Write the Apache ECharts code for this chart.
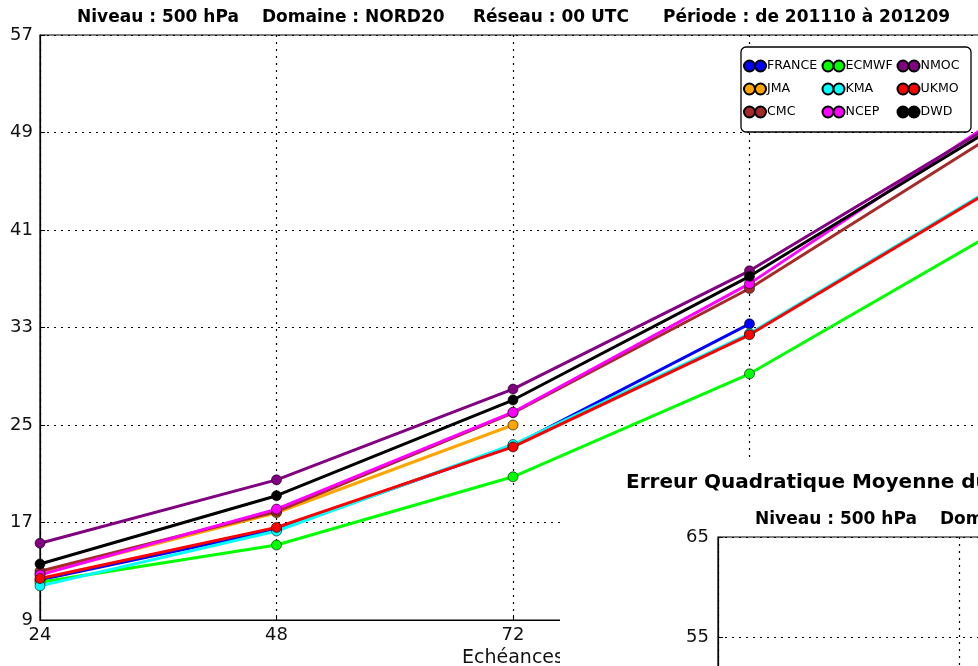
<!DOCTYPE html>
<html><head><meta charset="utf-8">
<script src="https://cdn.jsdelivr.net/npm/echarts@6/dist/echarts.min.js"></script>
<style>html,body{margin:0;padding:0;background:#fff}#c{width:978px;height:666px}</style>
</head><body><div id="c"></div>
<script>
// ---- data ----
const hours = [24, 48, 72, 96, 120];
const FRANCE = [12.3, 16.4, 23.3, 33.3, null];
const JMA    = [12.8, 17.8, 25.0, null, null];
const CMC    = [13.0, 17.9, 26.0, 36.2, 48.4];
const ECMWF  = [12.1, 15.15, 20.75, 29.2, 40.4];
const KMA    = [11.8, 16.3, 23.4, 32.5, 44.1];
const NCEP   = [12.7, 18.1, 26.05, 36.6, 49.5];
const NMOC   = [15.3, 20.5, 27.95, 37.65, 49.3];
const UKMO   = [12.4, 16.6, 23.2, 32.4, 44.0];
const DWD    = [13.6, 19.2, 27.05, 37.2, 49.0];
const seriesNames = ['FRANCE','JMA','CMC','ECMWF','KMA','NCEP','NMOC','UKMO','DWD'];
const seriesValues = {FRANCE, JMA, CMC, ECMWF, KMA, NCEP, NMOC, UKMO, DWD};
const seriesColors = {FRANCE:'#0000ff', JMA:'#ffa500', CMC:'#a52a2a', ECMWF:'#00ff00', KMA:'#00ffff',
  NCEP:'#ff00ff', NMOC:'#800080', UKMO:'#ff0000', DWD:'#000000'};
const legendCols = [['FRANCE','JMA','CMC'], ['ECMWF','KMA','NCEP'], ['NMOC','UKMO','DWD']];
const xTicks = {min: 24, max: 120, step: 24};
const yTicks1 = {min: 9, max: 57, step: 8};
const yTicks2 = {min: 5, max: 65, step: 10};
const titleParts = ['Niveau : 500 hPa', 'Domaine : NORD20', 'Réseau : 00 UTC', 'Période : de 201110 à 201209'];
const title2 = 'Erreur Quadratique Moyenne du géopotentiel';
const xName = 'Echéances';

// ---- styles ----
const FONT = 'DejaVu Sans';
const dotted = {type: [2, 5], color: '#000', width: 1.2};
const twoDots = 'path://M0,5.5A5.5,5.5,0,1,1,11,5.5A5.5,5.5,0,1,1,0,5.5ZM11,5.5A5.5,5.5,0,1,1,22,5.5A5.5,5.5,0,1,1,11,5.5Z';
const tickLbl = {fontSize: 18, fontFamily: FONT, color: '#111'};

const chart = echarts.init(document.getElementById('c'), null, {renderer: 'canvas'});

const titleLefts = [77, 262, 473, 663];
const titles = titleParts.map((t, i) => ({
  text: t, left: titleLefts[i], top: 9, padding: 0,
  textStyle: {fontSize: 17, fontWeight: 'bold', fontFamily: FONT, color: '#000'}
}));
titles.push({text: title2, left: 626, top: 473, padding: 0, z: 60,
  textStyle: {fontSize: 20, fontWeight: 'bold', fontFamily: FONT, color: '#000'}});
titles.push({text: titleParts[0], left: 755, top: 511, padding: 0, z: 60,
  textStyle: {fontSize: 17, fontWeight: 'bold', fontFamily: FONT, color: '#000'}});
titles.push({text: titleParts[1], left: 940, top: 511, padding: 0, z: 60,
  textStyle: {fontSize: 17, fontWeight: 'bold', fontFamily: FONT, color: '#000'}});

const legendLefts = [743, 821.5, 896.5];
const legends = legendCols.map((col, i) => ({
  data: col, orient: 'vertical', left: legendLefts[i], top: 56, padding: 0,
  itemGap: 3, itemWidth: 22, itemHeight: 11, icon: twoDots, z: 8, selectedMode: false,
  textStyle: {fontSize: 12.6, fontFamily: FONT, color: '#000', lineHeight: 13, padding: [7, 0, 0, -4]}
}));

const series = seriesNames.map(n => ({
  name: n, type: 'line', xAxisIndex: 0, yAxisIndex: 0,
  data: hours.map((h, i) => [h, seriesValues[n][i]]).filter(p => p[1] !== null),
  symbol: 'circle', symbolSize: 10, showAllSymbol: true,
  lineStyle: {width: 3, color: seriesColors[n]},
  itemStyle: {color: seriesColors[n], borderColor: '#000', borderWidth: 0.6},
  emphasis: {disabled: true}, silent: true
}));
series.push({type: 'line', xAxisIndex: 1, yAxisIndex: 1, data: [], z: 60});

chart.setOption({
  animation: false,
  backgroundColor: '#fff',
  title: titles,
  legend: legends,
  grid: [
    {left: 40, top: 35, width: 946, height: 585, show: true, borderColor: '#000', borderWidth: 1.2,
     backgroundColor: 'transparent', outerBoundsMode: 'none', containLabel: false},
    {left: 718, top: 537, width: 964, height: 600, show: true, borderColor: '#000', borderWidth: 1.2,
     backgroundColor: '#fff', z: 60, outerBoundsMode: 'none', containLabel: false}
  ],
  xAxis: [
    {type: 'value', gridIndex: 0, min: xTicks.min, max: xTicks.max, interval: xTicks.step,
     name: xName, nameLocation: 'middle', nameGap: 26,
     nameTextStyle: {fontSize: 19, fontFamily: FONT, color: '#111'},
     axisLine: {show: true, lineStyle: {color: '#000', width: 1.2}},
     axisTick: {show: true, inside: true, length: 5, lineStyle: {color: '#000'}},
     axisLabel: Object.assign({margin: 6}, tickLbl),
     splitLine: {show: true, lineStyle: dotted}},
    {type: 'value', gridIndex: 1, min: xTicks.min, max: xTicks.max, interval: xTicks.step, z: 60,
     axisLine: {show: true, lineStyle: {color: '#000', width: 1.2}},
     axisTick: {show: true, inside: true, length: 5, lineStyle: {color: '#000'}},
     axisLabel: Object.assign({margin: 6}, tickLbl),
     splitLine: {show: true, lineStyle: dotted}}
  ],
  yAxis: [
    {type: 'value', gridIndex: 0, min: yTicks1.min, max: yTicks1.max, interval: yTicks1.step,
     axisLine: {show: true, lineStyle: {color: '#000', width: 1.2}},
     axisTick: {show: true, inside: true, length: 5, lineStyle: {color: '#000'}},
     axisLabel: Object.assign({margin: 7}, tickLbl),
     splitLine: {show: true, lineStyle: dotted}},
    {type: 'value', gridIndex: 1, min: yTicks2.min, max: yTicks2.max, interval: yTicks2.step, z: 60,
     axisLine: {show: true, lineStyle: {color: '#000', width: 1.2}},
     axisTick: {show: true, inside: true, length: 5, lineStyle: {color: '#000'}},
     axisLabel: Object.assign({margin: 9}, tickLbl),
     splitLine: {show: true, lineStyle: dotted}}
  ],
  graphic: [
    {type: 'rect', z: 7, silent: true, shape: {x: 741, y: 47, width: 230, height: 85, r: 5},
     style: {fill: '#fff', stroke: '#000', lineWidth: 1.3}},
    {type: 'rect', z: 50, silent: true, shape: {x: 560, y: 462, width: 420, height: 210},
     style: {fill: '#fff'}}
  ],
  series: series
});
</script></body></html>
